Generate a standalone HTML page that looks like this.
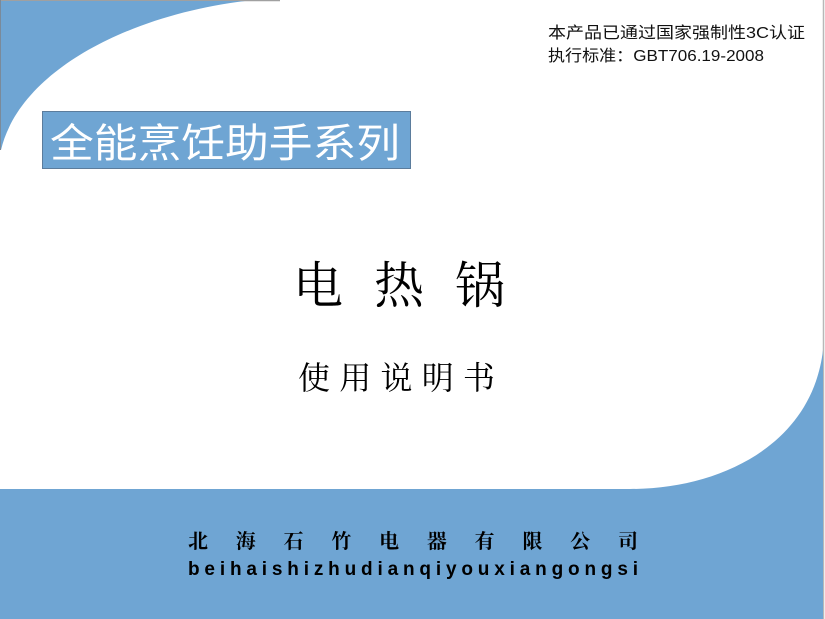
<!DOCTYPE html>
<html><head><meta charset="utf-8"><style>
html,body{margin:0;padding:0;background:#fff;}
svg{display:block;}
</style></head><body>
<svg width="825" height="619" viewBox="0 0 825 619" xmlns="http://www.w3.org/2000/svg">
  <rect x="0" y="0" width="825" height="619" fill="#ffffff"/>
  <line x1="0" y1="0.5" x2="280" y2="0.5" stroke="#a0a0a0" stroke-width="1.5"/>
  <line x1="823.5" y1="0" x2="823.5" y2="619" stroke="#b8b8b8" stroke-width="1.5"/>
  <path d="M0,1 L245,1 C130,15 20,70 1,150 L0,150 Z" fill="#6fa5d3"/>
  <line x1="0.5" y1="0" x2="0.5" y2="150" stroke="#7a8a9a" stroke-width="1"/>
  <path d="M630,489 C720,489 812,445 823,350 L823,489 Z" fill="#6fa5d3"/>
  <rect x="0" y="489" width="823" height="130" fill="#6fa5d3"/>

  <text x="548" y="38" font-family="'Liberation Sans','Noto Sans CJK SC',sans-serif" font-size="16" fill="#111" textLength="257" lengthAdjust="spacingAndGlyphs">本产品已通过国家强制性3C认证</text>
  <text x="548" y="61" font-family="'Liberation Sans','Noto Sans CJK SC',sans-serif" font-size="16" fill="#111" textLength="216" lengthAdjust="spacingAndGlyphs">执行标准：GBT706.19-2008</text>

  <rect x="42.5" y="111.5" width="368" height="57" fill="#6fa5d3" stroke="#5b7c9c" stroke-width="1"/>
  <text x="50" y="157" font-family="'Liberation Sans','Noto Sans CJK SC',sans-serif" font-size="40" fill="#ffffff" textLength="350" lengthAdjust="spacingAndGlyphs">全能烹饪助手系列</text>

  <text x="293" y="303" font-family="'Liberation Serif','Noto Serif CJK SC',serif" font-size="50" fill="#000" textLength="212" lengthAdjust="spacing">电热锅</text>
  <text x="298" y="389" font-family="'Liberation Serif','Noto Serif CJK SC',serif" font-size="32" fill="#000" textLength="197" lengthAdjust="spacing">使用说明书</text>

  <text x="188" y="548" font-family="'Liberation Serif','Noto Serif CJK SC',serif" font-size="20" font-weight="bold" fill="#000" textLength="450" lengthAdjust="spacing">北海石竹电器有限公司</text>
  <text x="188" y="575" font-family="'Liberation Sans',sans-serif" font-size="19" font-weight="bold" fill="#000" textLength="450" lengthAdjust="spacing">beihaishizhudianqiyouxiangongsi</text>
</svg>
</body></html>
